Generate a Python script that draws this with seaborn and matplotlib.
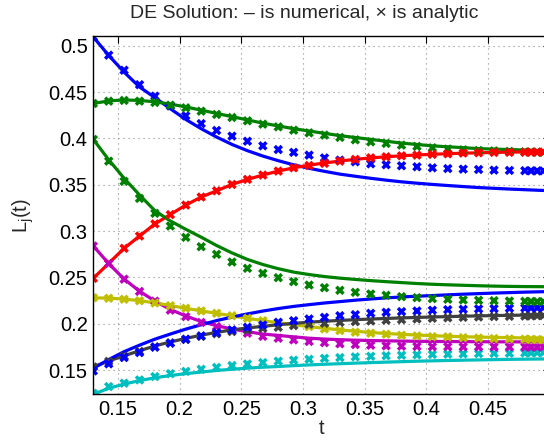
import numpy as np
import pandas as pd
import matplotlib
matplotlib.use("Agg")
import matplotlib.pyplot as plt
import seaborn as sns

# ---------------- data ----------------
t_line = [0.13, 0.1425, 0.155, 0.1675, 0.18, 0.1925, 0.205, 0.2175, 0.23, 0.2425,
          0.255, 0.2675, 0.28, 0.2925, 0.305, 0.3175, 0.33, 0.3425, 0.355, 0.3675,
          0.38, 0.3925, 0.405, 0.4175, 0.43, 0.4425, 0.455, 0.4675, 0.48, 0.4925, 0.5]
t_mark = [0.13, 0.1425, 0.155, 0.1675, 0.18, 0.1925, 0.205, 0.2175, 0.23, 0.2425,
          0.255, 0.2675, 0.28, 0.2925, 0.305, 0.3175, 0.33, 0.3425, 0.355, 0.3675,
          0.38, 0.3925, 0.405, 0.4175, 0.43, 0.4425, 0.455, 0.4675, 0.48, 0.485,
          0.49, 0.495, 0.5]

# numerical solution (lines)
num_blue1 = [0.5095, 0.4895, 0.4715, 0.4555, 0.444, 0.432, 0.4205, 0.4105, 0.4015, 0.3935,
             0.3868, 0.381, 0.376, 0.3715, 0.3678, 0.3645, 0.3615, 0.3592, 0.357, 0.355,
             0.3532, 0.3517, 0.3504, 0.3492, 0.3481, 0.347, 0.3462, 0.3454, 0.3447, 0.344, 0.3437]
num_green1 = [0.4377, 0.4405, 0.4415, 0.441, 0.4395, 0.437, 0.434, 0.4305, 0.427, 0.4235,
              0.42, 0.4165, 0.4135, 0.4105, 0.408, 0.4055, 0.403, 0.401, 0.399, 0.397,
              0.395, 0.3935, 0.392, 0.391, 0.39, 0.389, 0.3885, 0.388, 0.3875, 0.387, 0.3868]
num_red = [0.2491, 0.2653, 0.2815, 0.2947, 0.3078, 0.318, 0.3281, 0.3368, 0.3435, 0.3504,
           0.3558, 0.3605, 0.3648, 0.3683, 0.3712, 0.3735, 0.3756, 0.3775, 0.379, 0.3802,
           0.3813, 0.3822, 0.3829, 0.3835, 0.3841, 0.3845, 0.3849, 0.3852, 0.3854, 0.3856, 0.3857]
num_cyan = [0.124, 0.1305, 0.135, 0.1388, 0.1418, 0.1443, 0.1463, 0.148, 0.1497, 0.151,
            0.1522, 0.1532, 0.154, 0.1549, 0.1557, 0.1564, 0.157, 0.1576, 0.1582, 0.1587,
            0.1592, 0.1597, 0.1601, 0.1605, 0.1608, 0.1611, 0.1614, 0.1617, 0.1619, 0.1621, 0.1622]
num_magenta = [0.284, 0.265, 0.2483, 0.2352, 0.2245, 0.2155, 0.2085, 0.2025, 0.198, 0.1945,
               0.1915, 0.189, 0.1875, 0.186, 0.1845, 0.1836, 0.1829, 0.1824, 0.182, 0.1817,
               0.1814, 0.1812, 0.181, 0.1809, 0.1808, 0.1807, 0.1806, 0.1806, 0.1805, 0.1805, 0.1805]
num_yellow = [0.228, 0.2278, 0.2267, 0.225, 0.2226, 0.2198, 0.2168, 0.214, 0.2113, 0.2087,
              0.206, 0.2035, 0.2012, 0.199, 0.197, 0.1952, 0.1935, 0.192, 0.1907, 0.1896,
              0.1887, 0.1879, 0.1872, 0.1866, 0.1861, 0.1857, 0.1854, 0.1851, 0.1848, 0.1846, 0.1845]
num_gray = [0.1535, 0.16, 0.1655, 0.171, 0.1762, 0.1805, 0.1843, 0.1878, 0.1908, 0.1935,
            0.1955, 0.1973, 0.199, 0.2005, 0.2018, 0.2028, 0.2037, 0.2045, 0.2052, 0.2058,
            0.2064, 0.2069, 0.2074, 0.2078, 0.2082, 0.2086, 0.2089, 0.2092, 0.2094, 0.2096, 0.2097]
num_blue2 = [0.152, 0.1615, 0.17, 0.177, 0.1835, 0.189, 0.1943, 0.199, 0.2035, 0.2073,
             0.2107, 0.2138, 0.2165, 0.2188, 0.2207, 0.2225, 0.224, 0.2255, 0.2268, 0.228,
             0.229, 0.2298, 0.2305, 0.2313, 0.232, 0.2326, 0.2332, 0.2337, 0.2342, 0.2346, 0.2348]
num_green2 = [0.399, 0.377, 0.357, 0.339, 0.322, 0.311, 0.302, 0.2935, 0.2845, 0.2765,
              0.2695, 0.264, 0.2595, 0.2558, 0.2532, 0.251, 0.2493, 0.2479, 0.2466, 0.2455,
              0.2445, 0.2435, 0.2427, 0.2421, 0.2416, 0.2411, 0.2407, 0.2404, 0.2402, 0.2401, 0.24]

# analytic solution (x markers)
ana_blue1 = [0.5095, 0.4898, 0.4736, 0.458, 0.4456, 0.435, 0.4244, 0.416, 0.4086, 0.4025,
             0.397, 0.392, 0.388, 0.385, 0.382, 0.379, 0.3766, 0.3748, 0.3726, 0.3716,
             0.3705, 0.3694, 0.3683, 0.3675, 0.3669, 0.3665, 0.3658, 0.3655, 0.3652, 0.3651,
             0.365, 0.365, 0.365]
ana_green1 = [0.4377, 0.4402, 0.441, 0.4402, 0.4388, 0.4359, 0.433, 0.4294, 0.4259, 0.4226,
              0.419, 0.4154, 0.4125, 0.4089, 0.406, 0.4036, 0.4011, 0.3985, 0.3963, 0.3946,
              0.3928, 0.3914, 0.3899, 0.3885, 0.3877, 0.387, 0.3865, 0.386, 0.3855, 0.3853,
              0.3852, 0.385, 0.385]
ana_red = [0.2491, 0.2653, 0.2815, 0.2947, 0.3078, 0.3178, 0.3281, 0.3368, 0.3435, 0.3504,
           0.3558, 0.3605, 0.3648, 0.3683, 0.3708, 0.3731, 0.3755, 0.3774, 0.3791, 0.3802,
           0.3813, 0.382, 0.3828, 0.3834, 0.3842, 0.3845, 0.3849, 0.385, 0.3851, 0.3852,
           0.3852, 0.3853, 0.3853]
ana_cyan = [0.125, 0.1323, 0.136, 0.1395, 0.1431, 0.1462, 0.1487, 0.151, 0.153, 0.155,
            0.1567, 0.1582, 0.1597, 0.1608, 0.1618, 0.1628, 0.1636, 0.1644, 0.165, 0.1656,
            0.1661, 0.1666, 0.167, 0.1673, 0.1676, 0.1679, 0.1681, 0.1683, 0.1686, 0.1688,
            0.169, 0.169, 0.1691]
ana_magenta = [0.2839, 0.265, 0.2482, 0.235, 0.2245, 0.2148, 0.2078, 0.2015, 0.197, 0.1927,
               0.1899, 0.1865, 0.1845, 0.1827, 0.181, 0.1797, 0.1785, 0.1776, 0.1769, 0.1763,
               0.1759, 0.1756, 0.1754, 0.1753, 0.1752, 0.1752, 0.1751, 0.1751, 0.175, 0.175,
               0.175, 0.175, 0.175]
ana_yellow = [0.2282, 0.2276, 0.2265, 0.2249, 0.2225, 0.2196, 0.2168, 0.2139, 0.2114, 0.2088,
              0.206, 0.2034, 0.2013, 0.1988, 0.197, 0.1945, 0.1927, 0.191, 0.1899, 0.1888,
              0.1877, 0.187, 0.1862, 0.186, 0.1851, 0.1847, 0.1841, 0.1838, 0.1835, 0.1832,
              0.183, 0.1828, 0.1827]
ana_gray = [0.1535, 0.1595, 0.165, 0.1703, 0.1752, 0.1795, 0.1832, 0.1865, 0.1893, 0.1917,
            0.1934, 0.1952, 0.1963, 0.1981, 0.1996, 0.2006, 0.2016, 0.2024, 0.2031, 0.2039,
            0.2045, 0.2053, 0.206, 0.2065, 0.207, 0.2074, 0.2078, 0.2081, 0.2084, 0.2086,
            0.2088, 0.2089, 0.209]
ana_blue2 = [0.1492, 0.1568, 0.1636, 0.169, 0.1748, 0.1791, 0.1834, 0.187, 0.1905, 0.1934,
             0.1963, 0.1988, 0.2017, 0.2034, 0.2053, 0.207, 0.2088, 0.2099, 0.2114, 0.2125,
             0.2132, 0.2139, 0.2147, 0.2153, 0.2157, 0.2161, 0.2164, 0.2168, 0.2171, 0.2172,
             0.2173, 0.2174, 0.2175]
ana_green2 = [0.3989, 0.3755, 0.3537, 0.3353, 0.3192, 0.3055, 0.2933, 0.2832, 0.275, 0.2667,
              0.2599, 0.2545, 0.2498, 0.2455, 0.2419, 0.239, 0.2362, 0.234, 0.2322, 0.2308,
              0.2293, 0.2282, 0.2272, 0.2265, 0.2258, 0.2254, 0.225, 0.2246, 0.2243, 0.2241,
              0.224, 0.2239, 0.2238]

curve_names = ["L1", "L2", "L3", "L4", "L5", "L6", "L7", "L8", "L9"]
curve_colors = ["#0000ff", "#008000", "#ff0000", "#00bfbf", "#bf00bf", "#bfbf00",
                "#404040", "#0000ff", "#008000"]
num_series = [num_blue1, num_green1, num_red, num_cyan, num_magenta, num_yellow,
              num_gray, num_blue2, num_green2]
ana_series = [ana_blue1, ana_green1, ana_red, ana_cyan, ana_magenta, ana_yellow,
              ana_gray, ana_blue2, ana_green2]

title_text = "DE Solution: \u2013 is numerical, \u00d7 is analytic"
x_ticks = [0.15, 0.2, 0.25, 0.3, 0.35, 0.4, 0.45]
x_ticklabels = ["0.15", "0.2", "0.25", "0.3", "0.35", "0.4", "0.45"]
y_ticks = [0.15, 0.2, 0.25, 0.3, 0.35, 0.4, 0.45, 0.5]
y_ticklabels = ["0.15", "0.2", "0.25", "0.3", "0.35", "0.4", "0.45", "0.5"]

# ---------------- frames ----------------
df_num = pd.concat([pd.DataFrame({"t": t_line, "L": v, "curve": n})
                    for n, v in zip(curve_names, num_series)], ignore_index=True)
df_ana = pd.concat([pd.DataFrame({"t": t_mark, "L": v, "curve": n})
                    for n, v in zip(curve_names, ana_series)], ignore_index=True)
palette = dict(zip(curve_names, curve_colors))

# ---------------- plot ----------------
sns.set_style("white")
FONT = ["Liberation Sans", "DejaVu Sans"]
plt.rcParams["font.family"] = FONT
plt.rcParams["mathtext.fontset"] = "custom"
plt.rcParams["mathtext.rm"] = "Liberation Sans"
plt.rcParams["mathtext.it"] = "Liberation Sans"

fig = plt.figure(figsize=(5.44, 4.46), dpi=100)
ax = fig.add_axes([93.3 / 544, 1 - 394.3 / 446, (549.5 - 93.3) / 544, (394.3 - 36) / 446])

sns.lineplot(data=df_num, x="t", y="L", hue="curve", hue_order=curve_names,
             palette=palette, estimator=None, sort=False, linewidth=2.3,
             legend=False, ax=ax, zorder=2)
sns.scatterplot(data=df_ana, x="t", y="L", hue="curve", hue_order=curve_names,
                palette=palette, marker="x", s=26, linewidth=2.5,
                legend=False, ax=ax, zorder=3, clip_on=True)

ax.set_xlim(0.13, 0.5)
ax.set_ylim(0.124, 0.5105)
ax.set_xticks(x_ticks)
ax.set_xticklabels(x_ticklabels)
ax.set_yticks(y_ticks)
ax.set_yticklabels(y_ticklabels)
ax.tick_params(direction="in", length=5, width=0.8, top=True, right=True,
               labelsize=14.5, pad=4, colors="black")
ax.grid(True, linestyle=(0, (1, 3.5)), color="#8c8c8c", linewidth=0.8)
ax.set_axisbelow(True)
for s in ax.spines.values():
    s.set_color("black")
    s.set_linewidth(1.0)
    s.set_zorder(4)

ax.set_xlabel("t", fontsize=14.5, labelpad=0)
ax.set_ylabel(r"L$_\mathregular{j}$(t)", fontsize=14.5, labelpad=9)

fig.text(304 / 544, 1 - 18.5 / 446, title_text, ha="center", va="baseline",
         fontsize=14, family=FONT)

fig.savefig("out.png", dpi=100)
